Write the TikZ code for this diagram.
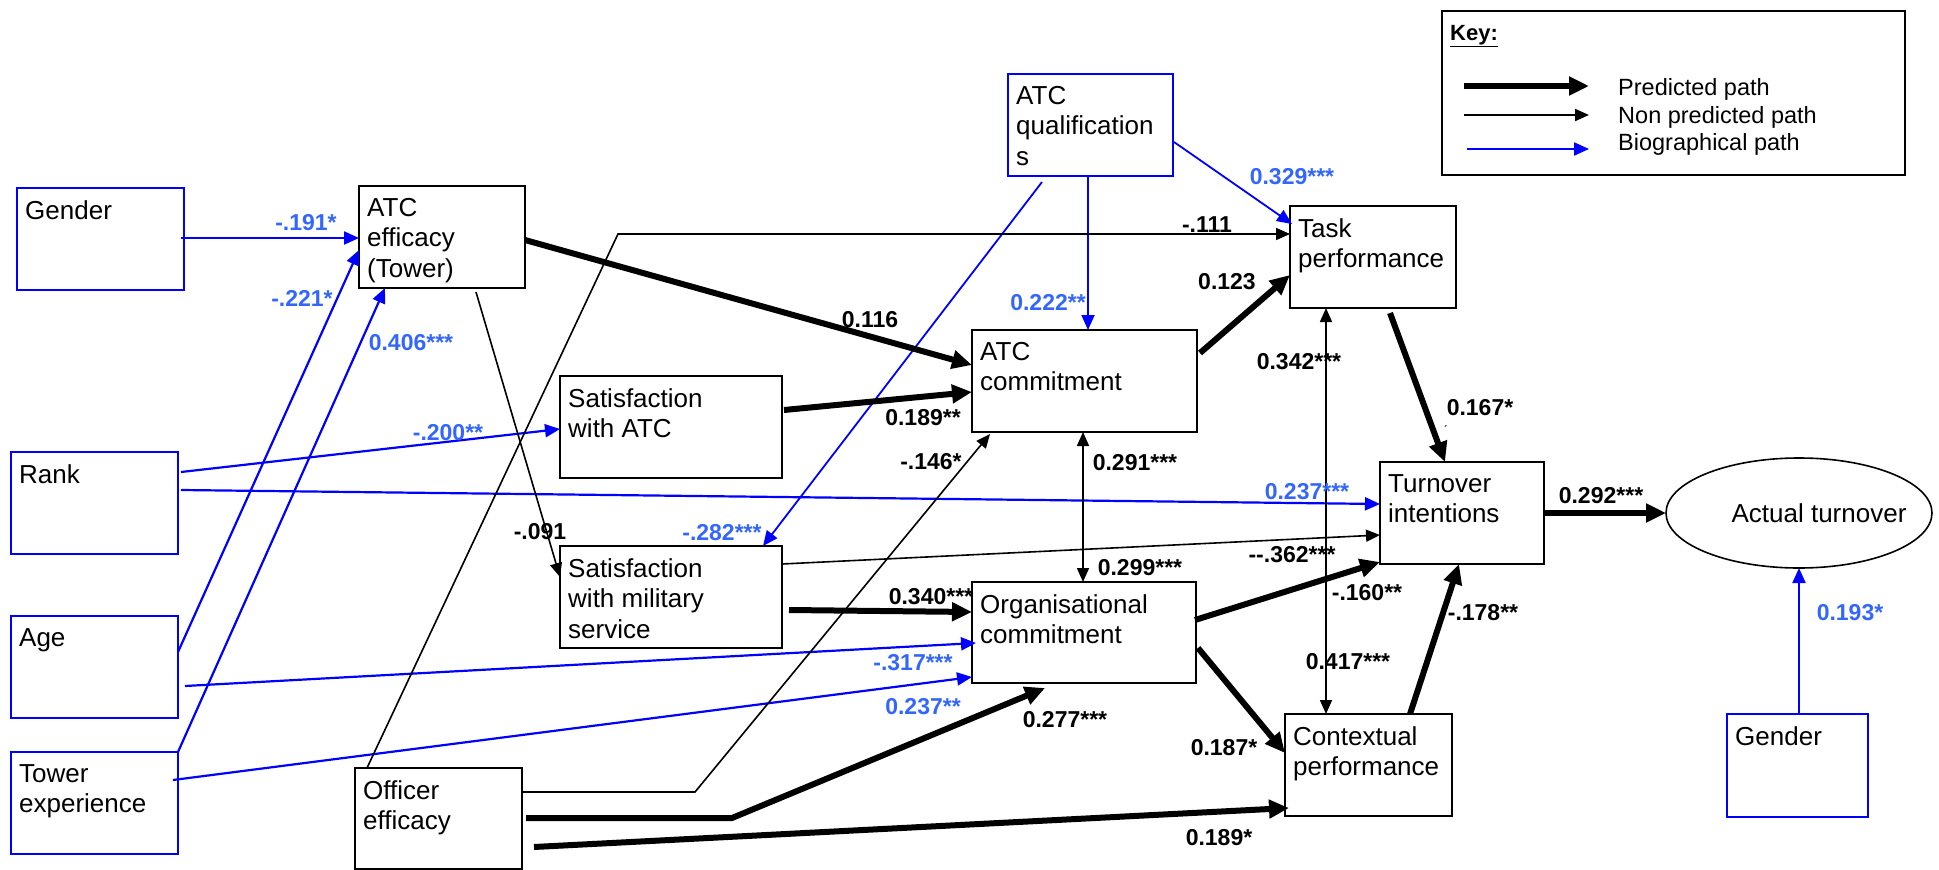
\documentclass[tikz,border=0pt]{standalone}
\usepackage{fontspec}
\setmainfont{Liberation Sans}
\usetikzlibrary{arrows.meta,shapes.geometric}
\definecolor{lblue}{RGB}{51,102,255}
\begin{document}
\begin{tikzpicture}[x=1pt,y=-1pt,
  box/.style={draw=black, line width=1.6pt, fill=white, anchor=north west, inner sep=0pt, outer sep=0pt, minimum height=102pt},
  bbox/.style={box, draw=blue},
  txt/.style={anchor=north west, inner xsep=8pt, inner ysep=12pt, align=left, font=\fontsize{26}{30.5}\selectfont},
  lab/.style={font=\fontsize{23}{27}\selectfont\bfseries, inner sep=0pt},
  blab/.style={lab, text=lblue},
  nonpath/.style={draw=black, line width=1.6pt, -{Triangle[length=14pt,width=12pt]}},
  nonboth/.style={draw=black, line width=1.6pt, {Triangle[length=14pt,width=12pt]}-{Triangle[length=14pt,width=12pt]}},
  predpath/.style={draw=black, line width=6pt, -{Triangle[length=20pt,width=18pt]}},
  biopath/.style={draw=blue, line width=2.2pt, -{Triangle[length=15pt,width=13pt]}},
  keytxt/.style={anchor=base west, inner sep=0pt, font=\fontsize{23.5}{27}\selectfont},
]
\useasboundingbox (0,0) rectangle (1939,870);

% ---------- boxes ----------
\node[bbox, minimum width=167pt, label={[txt,name=gendert]north west:Gender}] (gender) at (17,188) {};
\node[box, minimum width=166pt, label={[txt,name=atcefft]north west:ATC\\efficacy\\(Tower)}] (atceff) at (359,186) {};
\node[bbox, minimum width=167pt, label={[txt,name=rankt]north west:Rank}] (rank) at (11,452) {};
\node[bbox, minimum width=167pt, label={[txt,name=aget]north west:Age}] (age) at (11,616) {};
\node[bbox, minimum width=167pt, label={[txt,name=towert]north west:Tower\\experience}] (tower) at (11,752) {};
\node[box, minimum width=167pt, minimum height=101pt, label={[txt,name=officert]north west:Officer\\efficacy}] (officer) at (355,768) {};
\node[box, minimum width=222pt, label={[txt,name=satatct]north west:Satisfaction\\with ATC}] (satatc) at (560,376) {};
\node[box, minimum width=222pt, label={[txt,name=satmilt]north west:Satisfaction\\with military\\service}] (satmil) at (560,546) {};
\node[bbox, minimum width=165pt, label={[txt,name=atcqualt]north west:ATC\\qualification\\s}] (atcqual) at (1008,74) {};
\node[box, minimum width=225pt, label={[txt,name=atccomt]north west:ATC\\commitment}] (atccom) at (972,330) {};
\node[box, minimum width=224pt, minimum height=101pt, label={[txt,name=orgcomt]north west:Organisational\\commitment}] (orgcom) at (972,582) {};
\node[box, minimum width=166pt, label={[txt,name=taskt]north west:Task\\performance}] (task) at (1290,206) {};
\node[box, minimum width=164pt, label={[txt,name=turnt]north west:Turnover\\intentions}] (turn) at (1380,462) {};
\node[box, minimum width=167pt, label={[txt,name=contt]north west:Contextual\\performance}] (cont) at (1285,714) {};
\node[draw=black, line width=1.6pt, ellipse, minimum width=266pt, minimum height=110pt, inner sep=0pt, outer sep=0pt] (actual) at (1799,513) {};
\node[inner sep=0pt, font=\fontsize{26}{30.5}\selectfont] (actualt) at (1819,513) {Actual turnover};
\node[bbox, minimum width=141pt, minimum height=103pt, label={[txt,name=gender2t]north west:Gender}] (gender2) at (1727,714) {};

% ---------- key ----------
\node[draw=black, line width=1.6pt, anchor=north west, minimum width=463pt, minimum height=164pt, inner sep=0pt] (key) at (1441,10) {};
\node[anchor=base west, inner sep=0pt, font=\fontsize{22}{26}\selectfont\bfseries] (keytitle) at (1450,40) {\underline{Key:}};
\coordinate (k1a) at (1464,86);  \coordinate (k1b) at (1589,86);
\coordinate (k2a) at (1464,115); \coordinate (k2b) at (1589,115);
\coordinate (k3a) at (1467,149); \coordinate (k3b) at (1589,149);
\draw[predpath] (k1a) -- (k1b);
\draw[nonpath, line width=2pt] (k2a) -- (k2b);
\draw[biopath] (k3a) -- (k3b);
\node[keytxt] (keypred) at (1618,95) {Predicted path};
\node[keytxt] (keynon) at (1618,123) {Non predicted path};
\node[keytxt] (keybio) at (1618,150) {Biographical path};

% ---------- biographical paths ----------
\draw[biopath] ([xshift=164pt,yshift=-50pt]gender.north west) -- ([yshift=-52pt]atceff.north west);
\draw[biopath] ([xshift=167pt,yshift=-36pt]age.north west) -- ([yshift=-64pt]atceff.north west);
\draw[biopath] (tower.north east) -- ([xshift=26pt,yshift=-102pt]atceff.north west);
\draw[biopath] ([xshift=170pt,yshift=-20pt]rank.north west) -- ([yshift=-53pt]satatc.north west);
\draw[biopath] ([xshift=170pt,yshift=-38pt]rank.north west) -- ([yshift=-42pt]turn.north west);
\draw[biopath, line width=1.8pt] ([xshift=34pt,yshift=-108pt]atcqual.north west) -- ([xshift=203pt]satmil.north west);
\draw[biopath, line width=1.8pt] ([xshift=80pt,yshift=-102pt]atcqual.north west) -- ([xshift=116pt]atccom.north west);
\draw[biopath, line width=1.8pt] ([xshift=166pt,yshift=-68pt]atcqual.north west) -- ([xshift=2pt,yshift=-18pt]task.north west);
\draw[biopath] ([xshift=174pt,yshift=-70pt]age.north west) -- ([xshift=4pt,yshift=-61pt]orgcom.north west);
\draw[biopath] ([xshift=162pt,yshift=-28pt]tower.north west) -- ([yshift=-95pt]orgcom.north west);
\draw[biopath] ([xshift=72pt]gender2.north west) -- (actual.south);

% ---------- non predicted paths ----------
\coordinate (c1) at (618,234);
\coordinate (c2) at (695,792);
\draw[nonpath] ([xshift=117pt,yshift=-106pt]atceff.north west) -- ([yshift=-31pt]satmil.north west);
\draw[nonpath] ([xshift=12pt]officer.north west) -- (c1) -- ([yshift=-28pt]task.north west);
\draw[nonpath] ([xshift=167pt,yshift=-24pt]officer.north west) -- (c2) -- ([xshift=18pt,yshift=-104pt]atccom.north west);
\draw[nonboth] ([xshift=111pt]atccom.south west) -- ([xshift=111pt]orgcom.north west);
\draw[nonboth] ([xshift=36pt]task.south west) -- ([xshift=41pt]cont.north west);
\draw[nonpath] ([xshift=222pt,yshift=-18pt]satmil.north west) -- ([yshift=-73pt]turn.north west);

% ---------- predicted paths ----------
\coordinate (c3) at (732,818);
\draw[predpath] ([xshift=166pt,yshift=-54pt]atceff.north west) -- ([yshift=-35pt]atccom.north west);
\draw[predpath] ([xshift=224pt,yshift=-34pt]satatc.north west) -- ([yshift=-62pt]atccom.north west);
\draw[predpath] ([xshift=229pt,yshift=-64pt]satmil.north west) -- ([yshift=-30pt]orgcom.north west);
\draw[predpath] ([xshift=228pt,yshift=-23pt]atccom.north west) -- ([yshift=-69pt]task.north west);
\draw[predpath] ([xshift=100pt,yshift=-107pt]task.north west) -- ([xshift=65pt]turn.north west);
\draw[predpath] ([yshift=-51pt]turn.north east) -- (actual.west);
\draw[predpath] ([xshift=223pt,yshift=-38pt]orgcom.north west) -- ([yshift=-100pt]turn.north west);
\draw[predpath] ([xshift=226pt,yshift=-66pt]orgcom.north west) -- ([yshift=-39pt]cont.north west);
\draw[predpath] ([xshift=125pt]cont.north west) -- ([xshift=79pt]turn.south west);
\draw[predpath] ([xshift=171pt,yshift=-50pt]officer.north west) -- (c3) -- ([xshift=73pt,yshift=-106pt]orgcom.north west);
\draw[predpath] ([xshift=179pt,yshift=-79pt]officer.north west) -- ([xshift=4pt,yshift=-94pt]cont.north west);

% ---------- labels ----------
\node[blab] (l01) at (306,223) {-.191*};
\node[blab] (l02) at (302,298) {-.221*};
\node[blab] (l03) at (411,343) {0.406***};
\node[blab] (l04) at (448,433) {-.200**};
\node[blab] (l05) at (1307,492) {0.237***};
\node[blab] (l06) at (722,533) {-.282***};
\node[blab] (l07) at (1048,303) {0.222**};
\node[blab] (l08) at (1292,177) {0.329***};
\node[blab] (l09) at (913,663) {-.317***};
\node[blab] (l10) at (923,707) {0.237**};
\node[blab] (l11) at (1850,613) {0.193*};

\node[lab] (l12) at (540,532) {-.091};
\node[lab] (l13) at (1207,225) {-.111};
\node[lab] (l14) at (931,462) {-.146*};
\node[lab] (l15) at (1135,463) {0.291***};
\node[lab] (l16) at (1140,568) {0.299***};
\node[lab] (l17) at (1299,362) {0.342***};
\node[lab] (l18) at (1348,662) {0.417***};
\node[lab] (l19) at (1292,555) {{-}{-}.362***};

\node[lab] (l20) at (870,320) {0.116};
\node[lab] (l21) at (923,418) {0.189**};
\node[lab] (l22) at (931,597) {0.340***};
\node[lab] (l23) at (1227,282) {0.123};
\node[lab] (l24) at (1480,408) {0.167*};
\node[lab] (l25) at (1601,496) {0.292***};
\node[lab] (l26) at (1367,593) {-.160**};
\node[lab] (l27) at (1224,748) {0.187*};
\node[lab] (l28) at (1483,613) {-.178**};
\node[lab] (l29) at (1065,720) {0.277***};
\node[lab] (l30) at (1219,838) {0.189*};
\node[inner sep=0pt, font=\fontsize{12}{12}\selectfont] (tick) at (1446,430) {´};
\end{tikzpicture}
\end{document}
